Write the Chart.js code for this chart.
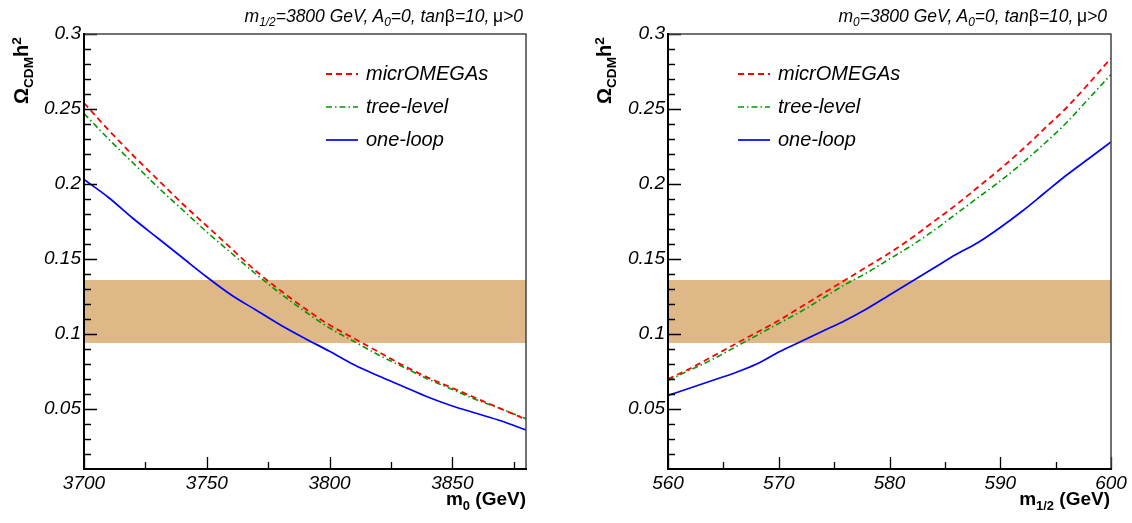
<!DOCTYPE html>
<html>
<head>
<meta charset="utf-8">
<script src="https://cdn.jsdelivr.net/npm/chart.js@4/dist/chart.umd.min.js"></script>
<style>
  body { margin: 0; background: #fff; }
  #wrap { position: relative; width: 1132px; height: 523px; font-family: "Liberation Sans", Arial, sans-serif; color: #000; }
  canvas { position: absolute; top: 0; }
  .txt { position: absolute; white-space: nowrap; }
  .sub { font-size: 0.68em; position: relative; top: 0.35em; }
  .sup { font-size: 0.68em; position: relative; top: -0.5em; }
  .up { font-style: normal; }
  .param { font-size: 17.5px; font-style: italic; text-align: right; line-height: 20px; top: 6px; }
  .xtitle { font-size: 19px; font-weight: bold; text-align: right; line-height: 22px; top: 488px; }
  .ytitle { font-size: 20px; font-weight: bold; line-height: 22px; transform: rotate(-90deg); transform-origin: left top; }
  .legend { position: absolute; font-size: 20px; font-style: italic; }
  .legend div { height: 33px; display: flex; align-items: center; }
  .legend svg { margin-right: 8px; }
</style>
</head>
<body>
<div id="wrap">
  <canvas id="left" width="566" height="523" style="left:0"></canvas>
  <canvas id="right" width="566" height="523" style="left:566px"></canvas>

  <div class="txt param" style="left:163px;width:360px">m<span class="sub">1/2</span>=3800 GeV, A<span class="sub">0</span>=0, tan<span class="up">β</span>=10,&thinsp;<span class="up">μ</span>&gt;0</div>
  <div class="txt param" style="left:747px;width:360px">m<span class="sub">0</span>=3800 GeV, A<span class="sub">0</span>=0, tan<span class="up">β</span>=10,&thinsp;<span class="up">μ</span>&gt;0</div>

  <div class="txt xtitle" style="left:326px;width:200px">m<span class="sub">0</span> (GeV)</div>
  <div class="txt xtitle" style="left:910px;width:200px">m<span class="sub">1/2</span> (GeV)</div>

  <div class="txt ytitle" style="left:10px;top:104px">Ω<span class="sub">CDM</span>h<span class="sup">2</span></div>
  <div class="txt ytitle" style="left:593px;top:104px">Ω<span class="sub">CDM</span>h<span class="sup">2</span></div>

  <div class="legend" id="legLeft" style="left:326px;top:57px"></div>
  <div class="legend" id="legRight" style="left:738px;top:57px"></div>
</div>

<script>
// ---- data ----
var seriesNames = ["micrOMEGAs", "tree-level", "one-loop"];

// left panel: m0 scan
var m0Values = [3700, 3710, 3720, 3730, 3740, 3750, 3760, 3770, 3780, 3790,
                3800, 3810, 3820, 3830, 3840, 3850, 3860, 3870, 3880];
var m0Micromegas = [0.254, 0.236, 0.219, 0.203, 0.187, 0.172, 0.157, 0.142, 0.129, 0.117,
                    0.106, 0.097, 0.088, 0.079, 0.071, 0.064, 0.057, 0.050, 0.043];
var m0TreeLevel = [0.247, 0.230, 0.214, 0.198, 0.183, 0.168, 0.154, 0.140, 0.127, 0.115,
                   0.104, 0.095, 0.086, 0.078, 0.070, 0.063, 0.056, 0.050, 0.0435];
var m0OneLoop = [0.203, 0.191, 0.177, 0.164, 0.151, 0.138, 0.126, 0.116, 0.106, 0.097,
                 0.0885, 0.0795, 0.072, 0.065, 0.058, 0.052, 0.047, 0.042, 0.036];

// right panel: m1/2 scan
var m12Values = [560, 562, 564, 566, 568, 570, 572, 574, 576, 578, 580,
                 582, 584, 586, 588, 590, 592, 594, 596, 598, 600];
var m12Micromegas = [0.070, 0.077, 0.085, 0.093, 0.101, 0.109, 0.118, 0.127, 0.136, 0.145, 0.154,
                     0.164, 0.175, 0.186, 0.198, 0.210, 0.223, 0.237, 0.251, 0.267, 0.284];
var m12TreeLevel = [0.069, 0.076, 0.083, 0.091, 0.099, 0.107, 0.115, 0.124, 0.133, 0.141, 0.150,
                    0.159, 0.169, 0.180, 0.191, 0.202, 0.214, 0.227, 0.241, 0.257, 0.273];
var m12OneLoop = [0.059, 0.064, 0.069, 0.074, 0.080, 0.088, 0.095, 0.102, 0.109, 0.117, 0.126,
                  0.135, 0.144, 0.153, 0.161, 0.171, 0.182, 0.194, 0.206, 0.217, 0.228];

// WMAP band and ticks
var bandRange = [0.094, 0.136];
var yTicks = [0.05, 0.1, 0.15, 0.2, 0.25, 0.3];
var m0Ticks = [3700, 3750, 3800, 3850];
var m12Ticks = [560, 570, 580, 590, 600];

// line styles
var styles = [
    { color: "#ff0000", dash: [6, 4], width: 1.8 },
    { color: "#009a00", dash: [6, 3, 1.5, 3], width: 1.6 },
    { color: "#0000ff", dash: [], width: 1.7 }
];

var tickFont = { family: "'Liberation Sans', Arial, sans-serif", size: 19, style: "italic" };

// draws ROOT-like inward ticks and the frame
var frameTicks = {
    id: "frameTicks",
    afterDatasetsDraw: function (chart, args, opts) {
        var ctx = chart.ctx;
        var a = chart.chartArea;
        var xs = chart.scales.x, ys = chart.scales.y;
        ctx.save();
        ctx.strokeStyle = "#000";
        ctx.lineWidth = 1.3;
        ctx.beginPath();
        // y ticks
        for (var v = 0.02; v < 0.3001; v += 0.01) {
            var yy = Math.round(ys.getPixelForValue(v)) + 0.5;
            var major = Math.abs(v * 20 - Math.round(v * 20)) < 1e-6;
            ctx.moveTo(a.left, yy);
            ctx.lineTo(a.left + (major ? 13 : 7), yy);
        }
        // x ticks
        for (var x = opts.xMin; x <= opts.xMax + 1e-6; x += opts.minorStep) {
            var xx = Math.round(xs.getPixelForValue(x)) + 0.5;
            var isMajor = opts.majors.indexOf(x) >= 0;
            ctx.moveTo(xx, a.bottom);
            ctx.lineTo(xx, a.bottom - (isMajor ? 12 : 7));
        }
        ctx.stroke();

        // frame
        ctx.strokeStyle = "#444";
        ctx.lineWidth = 1.5;
        ctx.beginPath();
        ctx.moveTo(a.left, a.top);
        ctx.lineTo(a.right, a.top);
        ctx.lineTo(a.right, a.bottom);
        ctx.stroke();
        ctx.strokeStyle = "#000";
        ctx.lineWidth = 2;
        ctx.beginPath();
        ctx.moveTo(a.left, a.top - 1);
        ctx.lineTo(a.left, a.bottom);
        ctx.lineTo(a.right + 1, a.bottom);
        ctx.stroke();
        ctx.restore();
    }
};

function makePanel(id, xVals, curves, xMin, xMax, xTicks, minorStep, yWidth, padRight) {
    var ctx = document.getElementById(id).getContext("2d");

    var datasets = curves.map(function (vals, i) {
        return {
            label: seriesNames[i],
            data: xVals.map(function (x, k) { return { x: x, y: vals[k] }; }),
            borderColor: styles[i].color,
            borderDash: styles[i].dash,
            borderWidth: styles[i].width,
            pointRadius: 0,
            fill: false,
            cubicInterpolationMode: "monotone",
            order: 0
        };
    });
    // band: two flat lines, filled between
    datasets.push({
        label: "band-low",
        data: [{ x: xMin, y: bandRange[0] }, { x: xMax, y: bandRange[0] }],
        borderWidth: 0, pointRadius: 0, fill: false, order: 5
    });
    datasets.push({
        label: "band-high",
        data: [{ x: xMin, y: bandRange[1] }, { x: xMax, y: bandRange[1] }],
        borderWidth: 0, pointRadius: 0, fill: "-1",
        backgroundColor: "#deb887", order: 5
    });

    return new Chart(ctx, {
        type: "line",
        data: { datasets: datasets },
        plugins: [frameTicks],
        options: {
            responsive: false,
            animation: false,
            devicePixelRatio: 1,
            layout: { padding: { top: 34, right: padRight, bottom: 0, left: 0 } },
            plugins: {
                legend: { display: false },
                tooltip: { enabled: false },
                frameTicks: { xMin: xMin, xMax: xMax, minorStep: minorStep, majors: xTicks }
            },
            scales: {
                x: {
                    type: "linear",
                    min: xMin,
                    max: xMax,
                    grid: { display: false, drawTicks: false },
                    border: { display: false },
                    ticks: {
                        font: tickFont, color: "#000", padding: 3,
                        maxRotation: 0, autoSkip: false,
                        callback: function (v) { return String(v); }
                    },
                    afterBuildTicks: function (s) {
                        s.ticks = xTicks.map(function (v) { return { value: v }; });
                    },
                    afterFit: function (s) { s.height = 54; }
                },
                y: {
                    min: 0.01,
                    max: 0.3,
                    grid: { display: false, drawTicks: false },
                    border: { display: false },
                    ticks: {
                        font: tickFont, color: "#000", padding: 3,
                        callback: function (v) { return String(v); }
                    },
                    afterBuildTicks: function (s) {
                        s.ticks = yTicks.map(function (v) { return { value: v }; });
                    },
                    afterFit: function (s) { s.width = yWidth; }
                }
            }
        }
    });
}

function makeLegend(id) {
    var box = document.getElementById(id);
    seriesNames.forEach(function (name, i) {
        var row = document.createElement("div");
        var st = styles[i];
        row.innerHTML =
            '<svg width="32" height="6"><line x1="0" y1="3" x2="32" y2="3" stroke="' + st.color +
            '" stroke-width="' + st.width + '" stroke-dasharray="' + (st.dash.length ? st.dash.join(" ") : "none") +
            '"/></svg><span>' + name + "</span>";
        box.appendChild(row);
    });
}

makePanel("left", m0Values, [m0Micromegas, m0TreeLevel, m0OneLoop],
          3700, 3880, m0Ticks, 25, 84, 40);
makePanel("right", m12Values, [m12Micromegas, m12TreeLevel, m12OneLoop],
          560, 600, m12Ticks, 5, 102, 21);
makeLegend("legLeft");
makeLegend("legRight");
</script>
</body>
</html>
